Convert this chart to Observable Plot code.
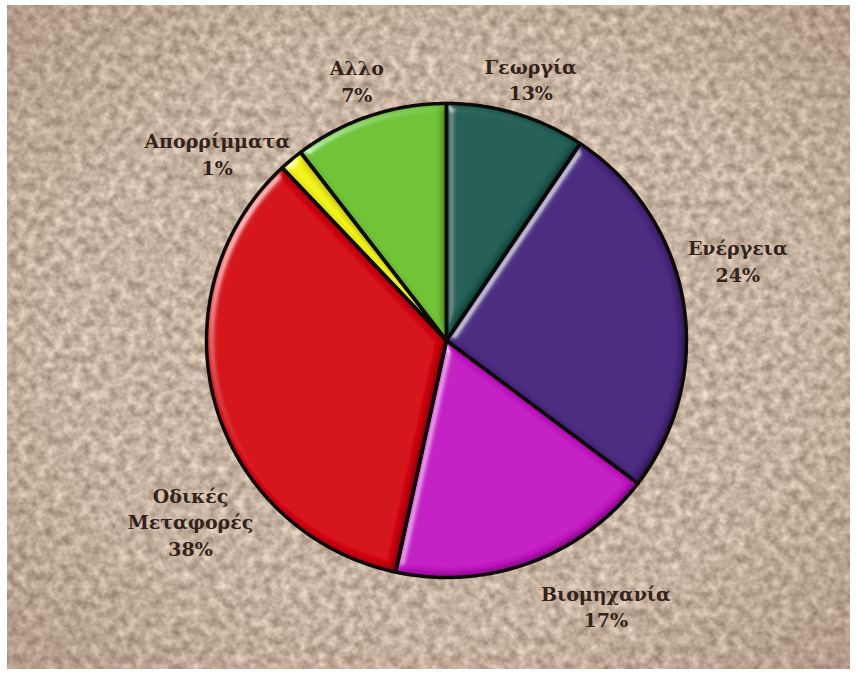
<!DOCTYPE html>
<html><head><meta charset="utf-8">
<script src="https://cdn.jsdelivr.net/npm/d3@7"></script>
<script src="https://cdn.jsdelivr.net/npm/@observablehq/plot@0.6"></script>
<style>
html,body{margin:0;padding:0;background:#fff;}
#chart{width:856px;height:675px;position:relative;}
</style></head><body><div id="chart"></div>
<script>
// ---- data ----
const categories = ["Γεωργία", "Ενέργεια", "Βιομηχανία", "Οδικές Μεταφορές", "Απορρίμματα", "Αλλο"];
const labelNames = ["Γεωργία", "Ενέργεια", "Βιομηχανία", "Οδικές\nΜεταφορές", "Απορρίμματα", "Αλλο"];
const shares = [9.4, 25.9, 18.1, 34.6, 1.6, 10.4];          // slice sizes as drawn
const percentLabels = ["13%", "24%", "17%", "38%", "1%", "7%"]; // printed labels
const colors = ["#1f5e55", "#4a2880", "#c414c4", "#d4000f", "#f0f212", "#6ec232"];

// ---- layout (label placement around the pie, polar: degrees clockwise from top, radius in pie radii) ----
const labelAngle = [17.6, 74.4, 149.3, 234.5, 309.6, 341.2];
const labelRadius = [1.16, 1.26, 1.30, 1.31, 1.24, 1.16];

const arcs = d3.pie().sort(null).value(d => d)(shares);
const slicePoints = [];
arcs.forEach((a, i) => {
  const cat = categories[i];
  slicePoints.push({cat, x: 0, y: 0});
  const n = Math.max(2, Math.ceil((a.endAngle - a.startAngle) / (Math.PI / 360)));
  for (let k = 0; k <= n; k++) {
    const t = a.startAngle + (a.endAngle - a.startAngle) * k / n;
    slicePoints.push({cat, x: Math.sin(t), y: Math.cos(t)});
  }
  slicePoints.push({cat, x: 0, y: 0});
});

const labels = categories.map((c, i) => {
  const t = labelAngle[i] * Math.PI / 180;
  return {cat: c, x: labelRadius[i] * Math.sin(t), y: labelRadius[i] * Math.cos(t),
          text: labelNames[i] + "\n" + percentLabels[i]};
});

const chart = Plot.plot({
  width: 856, height: 675, margin: 0,
  x: {domain: [-1, 1], range: [206, 686], axis: null},
  y: {domain: [-1, 1], range: [577, 103], axis: null},
  color: {domain: categories, range: colors},
  style: {background: "transparent", overflow: "visible"},
  marks: [
    Plot.line(slicePoints, {x: "x", y: "y", z: "cat", fill: "cat", stroke: "none", curve: "linear", className: "slicefill"}),
    Plot.line(slicePoints, {x: "x", y: "y", z: "cat", fill: "none", stroke: "#0d0a08", strokeWidth: 3.5, strokeLinejoin: "round", curve: "linear"}),
    Plot.text(labels, {x: "x", y: "y", text: "text", fontSize: 19, fontWeight: "bold", fontFamily: "DejaVu Serif", fill: "#33231a",
                       textAnchor: "middle", lineAnchor: "middle", lineHeight: 1.4})
  ]
});

// ---- decoration: paper texture background and bevel shading ----
const svg = d3.select(chart);
const defs = svg.insert("defs", ":first-child");
const paper = defs.append("filter").attr("id", "paper").attr("x", 0).attr("y", 0).attr("width", "100%").attr("height", "100%")
  .attr("color-interpolation-filters", "sRGB");
paper.append("feTurbulence").attr("type", "fractalNoise").attr("baseFrequency", "0.11").attr("numOctaves", 4).attr("seed", 7).attr("result", "n");
paper.append("feColorMatrix").attr("in", "n").attr("type", "matrix")
  .attr("values", "0.45 0 0 0 0.555  0.45 0 0 0 0.475  0.45 0 0 0 0.405  0 0 0 0 1");
const vg = defs.append("radialGradient").attr("id", "vig").attr("cx", "50%").attr("cy", "50%").attr("r", "72%");
vg.append("stop").attr("offset", "60%").attr("stop-color", "#5a3a22").attr("stop-opacity", 0);
vg.append("stop").attr("offset", "100%").attr("stop-color", "#5a3a22").attr("stop-opacity", 0.2);
const bevel = defs.append("filter").attr("id", "bevel").attr("x", "-5%").attr("y", "-5%").attr("width", "110%").attr("height", "110%");
bevel.append("feGaussianBlur").attr("in", "SourceAlpha").attr("stdDeviation", 4).attr("result", "b");
const spec = bevel.append("feSpecularLighting").attr("in", "b").attr("surfaceScale", 5).attr("specularConstant", 0.9)
  .attr("specularExponent", 30).attr("lighting-color", "#ffffff").attr("result", "s");
spec.append("feDistantLight").attr("azimuth", 215).attr("elevation", 30);
bevel.append("feComposite").attr("in", "s").attr("in2", "SourceAlpha").attr("operator", "in").attr("result", "s2");
const diff = bevel.append("feDiffuseLighting").attr("in", "b").attr("surfaceScale", 5).attr("diffuseConstant", 1.15)
  .attr("lighting-color", "#ffffff").attr("result", "d");
diff.append("feDistantLight").attr("azimuth", 215).attr("elevation", 60);
bevel.append("feComposite").attr("in", "SourceGraphic").attr("in2", "d").attr("operator", "arithmetic")
  .attr("k1", 1).attr("k2", 0).attr("k3", 0).attr("k4", 0).attr("result", "lit");
bevel.append("feComposite").attr("in", "lit").attr("in2", "s2").attr("operator", "arithmetic")
  .attr("k1", 0).attr("k2", 1).attr("k3", 0.5).attr("k4", 0).attr("result", "all");
bevel.append("feComposite").attr("in", "all").attr("in2", "SourceAlpha").attr("operator", "in");

const bg = svg.insert("g", "defs + *");
bg.append("rect").attr("x", 7).attr("y", 5).attr("width", 843).attr("height", 664).attr("filter", "url(#paper)");
bg.append("rect").attr("x", 7).attr("y", 5).attr("width", 843).attr("height", 664).attr("fill", "url(#vig)");
svg.selectAll(".slicefill path").attr("filter", "url(#bevel)");

document.getElementById("chart").appendChild(chart);
</script></body></html>
